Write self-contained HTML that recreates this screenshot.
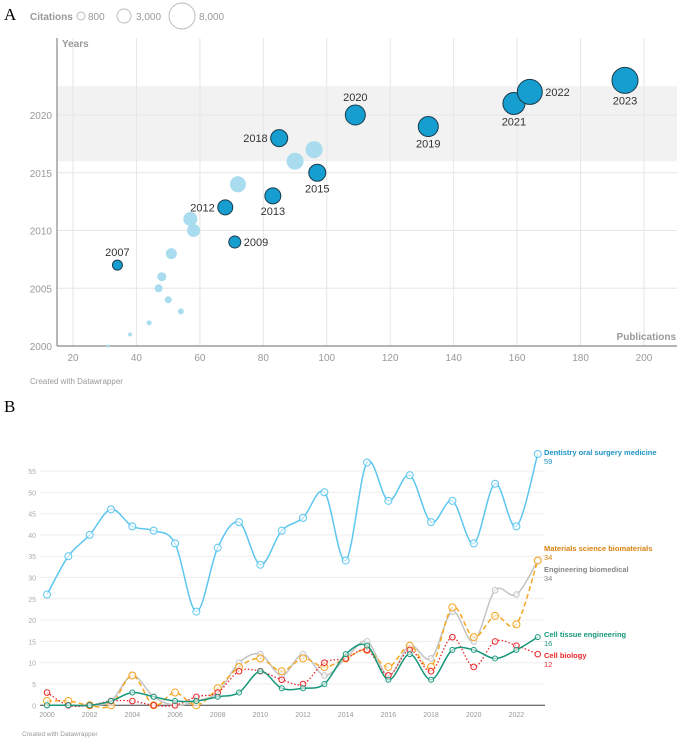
<!DOCTYPE html>
<html><head><meta charset="utf-8"><style>
body{margin:0;background:#fff;width:677px;height:739px;overflow:hidden;font-family:"Liberation Sans",sans-serif}
svg{position:absolute;left:0;top:0}
</style></head><body>
<svg id="s" width="677" height="739">
<text x="4" y="20" font-family="Liberation Serif" font-size="17">A</text>
<text x="4" y="412" font-family="Liberation Serif" font-size="17">B</text>
<g font-size="10" fill="#999">
<text x="30" y="20" font-weight="bold" fill="#999">Citations</text>
<circle cx="81" cy="16" r="4" fill="none" stroke="#bbb"/><text x="88" y="20">800</text>
<circle cx="124" cy="16" r="7" fill="none" stroke="#bbb"/><text x="136" y="20">3,000</text>
<circle cx="182" cy="16" r="13" fill="none" stroke="#bbb"/><text x="199" y="20">8,000</text>
</g>
<g id="ga"></g><g id="gb"></g>
<text x="30" y="384" font-size="8" fill="#999">Created with Datawrapper</text>
<text x="22" y="736" font-size="6.5" fill="#999">Created with Datawrapper</text>
</svg>
<script>
const years=[2000,2001,2002,2003,2004,2005,2006,2007,2008,2009,2010,2011,2012,2013,2014,2015,2016,2017,2018,2019,2020,2021,2022,2023];
const pubs=[31,38,44,54,50,47,48,34,51,71,58,57,68,83,72,97,90,96,85,132,109,159,164,194];
const radii=[1.5,2,2.5,3,3.5,4,4.5,5,5.5,6,6.5,7,7.5,8,8,8.5,8.5,8.5,8.5,10,10,11,12.5,13];
const highlighted=[2007,2009,2012,2013,2015,2018,2019,2020,2021,2022,2023];
const xTicksA=[20,40,60,80,100,120,140,160,180,200];
const yTicksA=[2000,2005,2010,2015,2020];
const dentistry=[26,35,40,46,42,41,38,22,37,43,33,41,44,50,34,57,48,54,43,48,38,52,42,59];
const materials=[1,1,0,0,7,0,3,0,4,9,11,8,11,9,11,13,9,14,9,23,16,21,19,34];
const engineering=[0,0,0,1,7,2,0,1,3,10,12,7,12,7,11,15,7,14,11,22,15,27,26,34];
const cellTissue=[0,0,0,1,3,2,1,1,2,3,8,4,4,5,12,14,6,12,6,13,13,11,13,16];
const cellBio=[3,0,0,1,1,0,0,2,3,8,8,6,5,10,11,13,7,13,8,16,9,15,14,12];
const yTicksB=[0,5,10,15,20,25,30,35,40,45,50,55];
const xTicksB=[2000,2002,2004,2006,2008,2010,2012,2014,2016,2018,2020,2022];
const NS="http://www.w3.org/2000/svg";
function mk(p,t,a,txt){const e=document.createElementNS(NS,t);for(const k in a)e.setAttribute(k,a[k]);if(txt!=null)e.textContent=txt;p.appendChild(e);return e;}
// Panel A
const ga=document.getElementById('ga');
const xa=v=>73+(v-20)*(644-73)/180, ya=v=>346-(v-2000)*(346-115)/20;
let band=mk(ga,'rect',{x:57,y:ya(2022.5),width:620,height:ya(2016)-ya(2022.5),fill:'#f2f2f2'});

xTicksA.forEach(t=>{let l=mk(ga,'line',{x1:xa(t),x2:xa(t),y1:38,y2:346,stroke:'#e6e6e6'});
let tx=mk(ga,'text',{x:xa(t),y:361,'text-anchor':'middle','font-size':10,fill:'#999'},t);});
yTicksA.forEach(t=>{let l=mk(ga,'line',{x1:57,x2:677,y1:ya(t),y2:ya(t),stroke:'#e6e6e6'});
let tx=mk(ga,'text',{x:52,y:ya(t)+4,'text-anchor':'end','font-size':10,fill:'#999'},t);});
let ax=mk(ga,'line',{x1:57,x2:57,y1:38,y2:346,stroke:'#888','stroke-width':1.2});
let bx=mk(ga,'line',{x1:57,x2:677,y1:346,y2:346,stroke:'#888','stroke-width':1.2});
let yt=mk(ga,'text',{x:62,y:47,'font-size':10,'font-weight':'bold',fill:'#999'},'Years');
let xt=mk(ga,'text',{x:676,y:340,'text-anchor':'end','font-size':10,'font-weight':'bold',fill:'#999'},'Publications');
const labelPos={2007:'t',2009:'r',2012:'l',2013:'b',2015:'b',2018:'l',2019:'b',2020:'t',2021:'b',2022:'r',2023:'b'};
years.forEach((y,i)=>{const hi=highlighted.includes(y);const cx=xa(pubs[i]),cy=ya(y),r=radii[i];
let c=mk(ga,'circle',{cx:cx,cy:cy,r:r,fill:hi?'#169ed0':'#a8dcee',stroke:hi?'#1a3a4a':'none','stroke-width':1});

if(hi){const p=labelPos[y];let lx=cx,ly=cy,an='middle';
if(p==='t'){ly=cy-r-4;}else if(p==='b'){ly=cy+r+11;}else if(p==='r'){lx=cx+r+3;ly=cy+4;an='start';}else{lx=cx-r-3;ly=cy+4;an='end';}
let t=mk(ga,'text',{x:lx,y:ly,'text-anchor':an,'font-size':11,fill:'#333'},y);}
});
// Panel B
const gb=document.getElementById('gb');
const xb=v=>47+(v-2000)*(516.4-47)/22, yb=v=>705.3-v*(705.3-471)/55;
yTicksB.forEach(t=>{let l=mk(gb,'line',{x1:40,x2:545,y1:yb(t),y2:yb(t),stroke:'#eee'});
let tx=mk(gb,'text',{x:36,y:yb(t)+3,'text-anchor':'end','font-size':7,fill:'#aaa'},t);});
let bl=mk(gb,'line',{x1:40,x2:545,y1:yb(0),y2:yb(0),stroke:'#444','stroke-width':1});
xTicksB.forEach(t=>{let tx=mk(gb,'text',{x:xb(t),y:717,'text-anchor':'middle','font-size':7,fill:'#999'},t);});
function path(vals){const p=vals.map((v,i)=>[xb(years[i]),yb(v)]);let d='M'+p[0];for(let i=0;i<p.length-1;i++){const p0=p[i-1]||p[i],p1=p[i],p2=p[i+1],p3=p[i+2]||p2;
d+=' C'+(p1[0]+(p2[0]-p0[0])/6)+','+(p1[1]+(p2[1]-p0[1])/6)+' '+(p2[0]-(p3[0]-p1[0])/6)+','+(p2[1]-(p3[1]-p1[1])/6)+' '+p2;}return d;}
const series=[
{name:'engineering-biomedical',vals:engineering,col:'#c4c4c4',dash:'',w:1.5,lab:['Engineering biomedical','34'],lc:'#888',ly:572,r:2.8},
{name:'materials-science',vals:materials,col:'#f5a623',dash:'5,3',w:1.5,lab:['Materials science biomaterials','34'],lc:'#d9820f',ly:551,r:3.5},
{name:'cell-biology',vals:cellBio,col:'#e8262c',dash:'1.5,2',w:1.3,lab:['Cell biology','12'],lc:'#e8262c',ly:658,r:2.8},
{name:'cell-tissue-engineering',vals:cellTissue,col:'#17977a',dash:'',w:1.5,lab:['Cell tissue engineering','16'],lc:'#17977a',ly:637,r:2.5},
{name:'dentistry',vals:dentistry,col:'#5cc6ef',dash:'',w:1.5,lab:['Dentistry oral surgery medicine','59'],lc:'#1d93c6',ly:455,r:3.5}];
series.forEach(s=>{let p=mk(gb,'path',{d:path(s.vals),fill:'none',stroke:s.col,'stroke-width':s.w,'stroke-dasharray':s.dash});

s.vals.forEach((v,i)=>{let c=mk(gb,'circle',{cx:xb(years[i]),cy:yb(v),r:s.r,fill:'#fff','fill-opacity':0.6,stroke:s.col,'stroke-width':1});});
let t=mk(gb,'text',{x:544,y:s.ly,'font-size':7.5,'font-weight':'bold',fill:s.lc},s.lab[0]);
let t2=mk(gb,'text',{x:544,y:s.ly+9,'font-size':7.5,fill:s.lc},s.lab[1]);
});
</script>
</body></html>
